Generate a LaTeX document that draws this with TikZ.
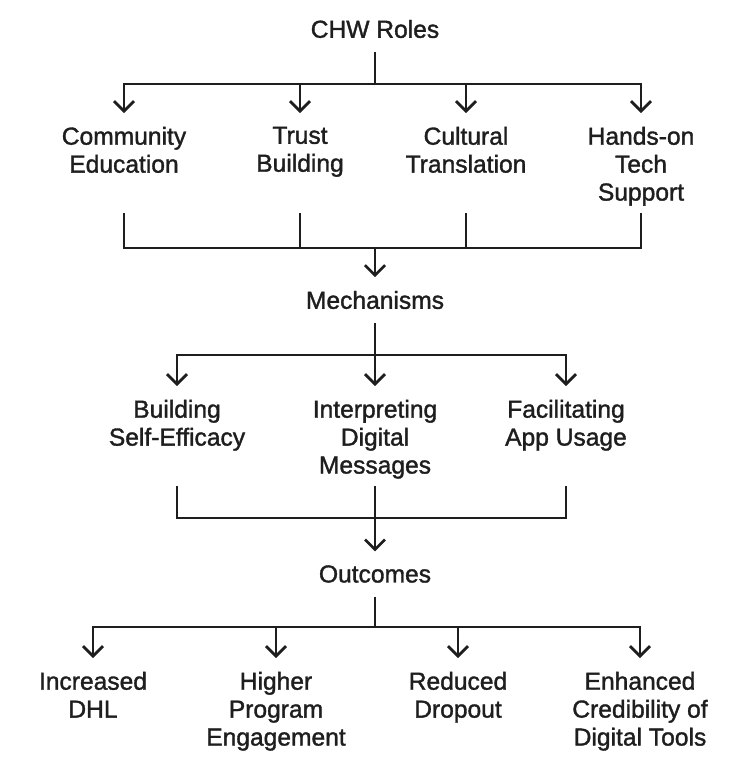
\documentclass[tikz,border=0pt]{standalone}
\usepackage{fontspec}
\setmainfont{Liberation Sans}
\newfontfamily\labelfont{Liberation Sans}[FakeBold=1.4]
\usetikzlibrary{arrows.meta}
\definecolor{myink}{RGB}{30,30,30}

\begin{document}
\begin{tikzpicture}[x=0.02cm,y=-0.02cm,
  lbl/.style={text=myink,font=\labelfont\fontsize{14}{15.9}\selectfont,align=center,
    inner xsep=0pt,inner ysep=0.27cm},
  leaf/.style={lbl,anchor=north},
  link/.style={draw=myink,line width=1.55pt},
  arr/.style={link,-{Straight Barb[length=0.2cm,width=0.4cm]}},
  twoarr/.style={link,{Straight Barb[length=0.2cm,width=0.4cm]}-{Straight Barb[length=0.2cm,width=0.4cm]}}]
\useasboundingbox (0,0) rectangle (750,782);

% level headings
\node[lbl] (roles) at (375,29) {CHW Roles};
\node[lbl] (mech) at (375,300) {Mechanisms};
\node[lbl] (outc) at (375,574) {Outcomes};

% junction points
\coordinate (j1) at (375,84);
\coordinate (k1) at (375,213);
\coordinate (m1) at (375,248);
\coordinate (j2) at (375,355);
\coordinate (k2) at (375,486);
\coordinate (m2) at (375,518);
\coordinate (j3) at (375,627);

% roles
\node[leaf] (comm) at (124,113) {Community\\Education};
\node[leaf] (trust) at (300,113) {Trust\\Building};
\node[leaf] (cult) at (466,113) {Cultural\\Translation};
\node[leaf] (tech) at (641,113) {Hands-on\\Tech\\Support};

% mechanisms
\node[leaf] (self) at (177,386) {Building\\Self-Efficacy};
\node[leaf] (interp) at (375,386) {Interpreting\\Digital\\Messages};
\node[leaf] (facil) at (566,386) {Facilitating\\App Usage};

% outcomes
\node[leaf] (dhl) at (93,658) {Increased\\DHL};
\node[leaf] (engage) at (276,658) {Higher\\Program\\Engagement};
\node[leaf] (drop) at (458,658) {Reduced\\Dropout};
\node[leaf] (cred) at (640,658) {Enhanced\\Credibility of\\Digital Tools};

% roles fan out
\draw[link] (roles) -- (j1);
\draw[twoarr] (comm.north) -- (comm.north |- j1) -- (tech.north |- j1) -- (tech.north);
\foreach \n in {trust,cult}
  \draw[arr] (\n.north |- j1) -- (\n.north);

% roles gather
\draw[link] (comm.north |- k1) -- (comm.north |- m1) -- (tech.north |- m1) -- (tech.north |- k1);
\foreach \n in {trust,cult}
  \draw[link] (\n.north |- k1) -- (\n.north |- m1);
\draw[arr] (m1) -- (mech);

% mechanisms fan out
\draw[arr] (mech) -- (interp);
\draw[twoarr] (self.north) -- (self.north |- j2) -- (facil.north |- j2) -- (facil.north);

% mechanisms gather
\draw[link] (self.north |- k2) -- (self.north |- m2) -- (facil.north |- m2) -- (facil.north |- k2);
\draw[arr] (interp.north |- k2) -- (outc);

% outcomes fan out
\draw[link] (outc) -- (j3);
\draw[twoarr] (dhl.north) -- (dhl.north |- j3) -- (cred.north |- j3) -- (cred.north);
\foreach \n in {engage,drop}
  \draw[arr] (\n.north |- j3) -- (\n.north);
\end{tikzpicture}
\end{document}
